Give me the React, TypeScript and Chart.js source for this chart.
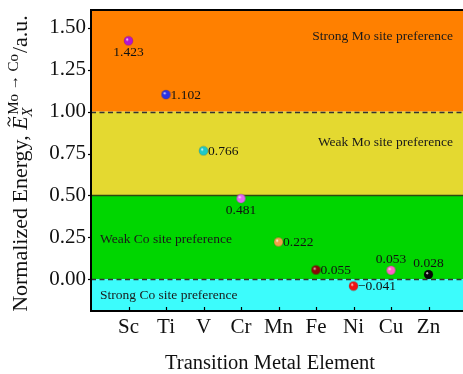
import React, { useEffect, useRef } from "react";
import { Chart, registerables } from "chart.js";

Chart.register(...registerables);

// ---------------- data ----------------
const elements = ["Sc", "Ti", "V", "Cr", "Mn", "Fe", "Ni", "Cu", "Zn"];
const energies = [1.423, 1.102, 0.766, 0.481, 0.222, 0.055, -0.041, 0.053, 0.028];
const pointColors = ["#b414d2", "#2a32e6", "#1ec8c8", "#e466f2", "#f2a048", "#8c0606", "#f01414", "#ff62c8", "#080808"];
const labelPlacement = ["below", "right", "right", "below", "right", "right", "right", "above", "above"];
const yTicks = [0, 0.25, 0.5, 0.75, 1.0, 1.25, 1.5];

const bandEdges = [1.0, 0.5, 0.0]; // thresholds between regions
const bandColors = ["#ff8000", "#e4d930", "#00d600", "#3cfcfc"];
const bandLines = [
  { value: 1.0, dashed: true },
  { value: 0.5, dashed: false },
  { value: 0.0, dashed: true },
];
const regionTexts = ["Strong Mo site preference", "Weak Mo site preference", "Weak Co site preference", "Strong Co site preference"];
const regionTextX = [9.65, 9.65, 0.24, 0.24];
const regionTextY = [1.45, 0.815, 0.238, -0.1];
const regionTextAlign = ["right", "right", "left", "left"];

const X_MIN = 0;
const X_MAX = 9.92;
const Y_MIN = -0.19;
const Y_MAX = 1.607;

const SERIF = "'Liberation Serif', 'DejaVu Serif', serif";

function fmt(v: number) {
  return v < 0 ? "\u2212" + Math.abs(v).toFixed(3) : v.toFixed(3);
}

function makeBall(color: string, r: number) {
  const c = document.createElement("canvas");
  const s = Math.ceil(r * 2) + 2;
  c.width = s;
  c.height = s;
  const g = c.getContext("2d")!;
  const cx = s / 2;
  const grad = g.createRadialGradient(cx - r * 0.35, cx - r * 0.35, r * 0.05, cx, cx, r);
  grad.addColorStop(0, "#ffffff");
  grad.addColorStop(0.3, color);
  grad.addColorStop(1, color);
  g.fillStyle = grad;
  g.beginPath();
  g.arc(cx, cx, r, 0, Math.PI * 2);
  g.fill();
  g.strokeStyle = "rgba(0,0,0,0.25)";
  g.lineWidth = 0.6;
  g.stroke();
  return c;
}

const decorPlugin = {
  id: "decor",
  beforeDatasetsDraw(chart: any) {
    const { ctx, chartArea: a, scales } = chart;
    const y = scales.y;
    const x = scales.x;
    ctx.save();
    // bands
    const edges = [a.top, ...bandEdges.map((v) => y.getPixelForValue(v)), a.bottom];
    for (let i = 0; i < bandColors.length; i++) {
      ctx.fillStyle = bandColors[i];
      ctx.fillRect(a.left, edges[i], a.right - a.left, edges[i + 1] - edges[i]);
    }
    // lines
    for (const ln of bandLines) {
      const py = Math.round(y.getPixelForValue(ln.value)) + 0.5;
      ctx.beginPath();
      ctx.setLineDash(ln.dashed ? [5, 3.5] : []);
      ctx.strokeStyle = ln.dashed ? "#333333" : "#2c4a10";
      ctx.lineWidth = 1.4;
      ctx.moveTo(a.left, py);
      ctx.lineTo(a.right, py);
      ctx.stroke();
    }
    ctx.setLineDash([]);
    // region texts
    ctx.font = `13.5px ${SERIF}`;
    ctx.fillStyle = "#1a1a1a";
    ctx.textBaseline = "middle";
    for (let i = 0; i < regionTexts.length; i++) {
      ctx.textAlign = regionTextAlign[i] as CanvasTextAlign;
      ctx.fillText(regionTexts[i], x.getPixelForValue(regionTextX[i]), y.getPixelForValue(regionTextY[i]));
    }
    ctx.restore();
  },
  afterDatasetsDraw(chart: any) {
    const { ctx } = chart;
    const meta = chart.getDatasetMeta(0);
    ctx.save();
    ctx.font = `13.5px ${SERIF}`;
    ctx.fillStyle = "#111111";
    meta.data.forEach((pt: any, i: number) => {
      const txt = fmt(energies[i]);
      const p = labelPlacement[i];
      if (p === "right") {
        ctx.textAlign = "left";
        ctx.textBaseline = "middle";
        ctx.fillText(txt, pt.x + 4.5, pt.y + 0.5);
      } else if (p === "below") {
        ctx.textAlign = "center";
        ctx.textBaseline = "middle";
        ctx.fillText(txt, pt.x, pt.y + 12);
      } else {
        ctx.textAlign = "center";
        ctx.textBaseline = "middle";
        ctx.fillText(txt, pt.x, pt.y - 11);
      }
    });
    ctx.restore();
  },
  afterDraw(chart: any) {
    const { ctx, chartArea: a, scales } = chart;
    ctx.save();
    // frame (right side cropped)
    ctx.strokeStyle = "#000";
    ctx.lineWidth = 2;
    ctx.beginPath();
    ctx.moveTo(a.right + 2, a.top);
    ctx.lineTo(a.left, a.top);
    ctx.lineTo(a.left, a.bottom);
    ctx.lineTo(a.right + 2, a.bottom);
    ctx.stroke();
    // tick marks
    ctx.lineWidth = 1.2;
    for (const v of yTicks) {
      const py = Math.round(scales.y.getPixelForValue(v)) + 0.5;
      ctx.beginPath();
      ctx.moveTo(a.left - 3, py);
      ctx.lineTo(a.left, py);
      ctx.stroke();
    }
    elements.forEach((_, i) => {
      const px = Math.round(scales.x.getPixelForValue(i + 1)) + 0.5;
      ctx.beginPath();
      ctx.moveTo(px, a.bottom);
      ctx.lineTo(px, a.bottom - 4);
      ctx.stroke();
    });
    // x title
    ctx.fillStyle = "#111";
    ctx.font = `20.5px ${SERIF}`;
    ctx.textAlign = "center";
    ctx.textBaseline = "alphabetic";
    ctx.fillText("Transition Metal Element", 270, 369);

    // y title with math
    const main = `22px ${SERIF}`;
    const ital = `italic 22px ${SERIF}`;
    const small = `15px ${SERIF}`;
    const smallIt = `italic 15px ${SERIF}`;
    const s1 = "Normalized Energy, ";
    const sup = "Mo \u2192 Co";
    const s3 = "/a.u.";
    ctx.font = main;
    const w1 = ctx.measureText(s1).width;
    const w3 = ctx.measureText(s3).width;
    ctx.font = ital;
    const wE = ctx.measureText("E").width;
    ctx.font = small;
    const wSup = ctx.measureText(sup).width;
    ctx.font = smallIt;
    const wSub = ctx.measureText("X").width;
    const wScript = Math.max(wSup, wSub);
    const total = w1 + wE + 1.5 + wScript + 1 + w3;
    ctx.translate(27, 163.5);
    ctx.rotate(-Math.PI / 2);
    ctx.textAlign = "left";
    let cx = -total / 2;
    ctx.font = main;
    ctx.fillText(s1, cx, 0);
    cx += w1;
    ctx.font = ital;
    ctx.fillText("E", cx, 0);
    // tilde above E
    ctx.beginPath();
    ctx.lineWidth = 1.1;
    ctx.strokeStyle = "#111";
    const tx = cx + wE * 0.6;
    const ty = -18;
    ctx.moveTo(tx - 4.5, ty + 1);
    ctx.bezierCurveTo(tx - 2.5, ty - 2.5, tx - 1, ty - 1, tx, ty);
    ctx.bezierCurveTo(tx + 1, ty + 1, tx + 2.5, ty + 2.5, tx + 4.5, ty - 1);
    ctx.stroke();
    cx += wE + 1.5;
    ctx.font = small;
    ctx.fillText(sup, cx, -9);
    ctx.font = smallIt;
    ctx.fillText("X", cx - 2, 5);
    cx += wScript + 1;
    ctx.font = main;
    ctx.fillText(s3, cx, 0);
    ctx.restore();
  },
};

export default function App() {
  const ref = useRef<HTMLCanvasElement | null>(null);

  useEffect(() => {
    if (!ref.current) return;
    const balls = pointColors.map((c) => makeBall(c, 4.5));
    const chart = new Chart(ref.current, {
      type: "scatter",
      data: {
        datasets: [
          {
            data: energies.map((v, i) => ({ x: i + 1, y: v })),
            pointStyle: balls as any,
            pointRadius: 4.5,
            pointHoverRadius: 4.5,
            backgroundColor: pointColors,
            borderWidth: 0,
          },
        ],
      },
      options: {
        animation: false,
        responsive: false,
        devicePixelRatio: 1,
        layout: { autoPadding: false, padding: { top: 10, right: 0, left: 0, bottom: 0 } },
        plugins: { legend: { display: false }, tooltip: { enabled: false } },
        events: [],
        scales: {
          x: {
            type: "linear",
            min: X_MIN,
            max: X_MAX,
            grid: { display: false, drawTicks: false },
            border: { display: false },
            afterBuildTicks: (s: any) => {
              s.ticks = elements.map((_, i) => ({ value: i + 1 }));
            },
            afterFit: (s: any) => {
              s.height = 63;
              s.paddingLeft = 0;
              s.paddingRight = 0;
            },
            ticks: {
              autoSkip: false,
              maxRotation: 0,
              padding: 4,
              color: "#111",
              font: { family: SERIF, size: 21 },
              callback: (v: any) => elements[Math.round(v) - 1] ?? "",
            },
          },
          y: {
            type: "linear",
            min: Y_MIN,
            max: Y_MAX,
            grid: { display: false, drawTicks: false },
            border: { display: false },
            afterBuildTicks: (s: any) => {
              s.ticks = yTicks.map((v) => ({ value: v }));
            },
            afterFit: (s: any) => {
              s.width = 91;
              s.paddingTop = 0;
              s.paddingBottom = 0;
            },
            ticks: {
              padding: 5,
              color: "#111",
              font: { family: SERIF, size: 21 },
              callback: (v: any) => Number(v).toFixed(2),
            },
          },
        },
      },
      plugins: [decorPlugin],
    });
    return () => chart.destroy();
  }, []);

  return (
    <div style={{ position: "absolute", left: 0, top: 0, width: 463, height: 374, overflow: "hidden" }}>
      <canvas ref={ref} width={463} height={374} style={{ display: "block", width: 463, height: 374 }} />
    </div>
  );
}
